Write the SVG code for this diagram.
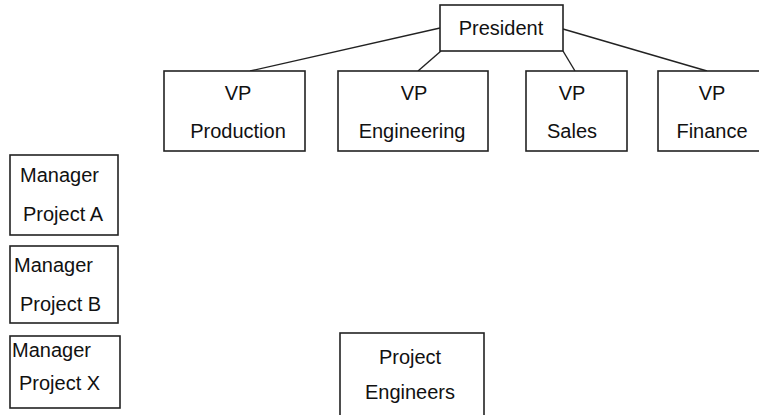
<svg xmlns="http://www.w3.org/2000/svg" width="759" height="415" viewBox="0 0 759 415">
  <style>
    .box { fill: #ffffff; stroke: #222222; stroke-width: 1.6; }
    .lbl { font-family: "Liberation Sans", Arial, sans-serif; font-size: 20px; fill: #111111; }
    .mid { text-anchor: middle; }
    .link { stroke: #222222; stroke-width: 1.4; fill: none; }
  </style>
  <rect width="759" height="415" fill="#ffffff"/>

  <!-- reporting lines from the president to each VP -->
  <g id="connectors">
    <line class="link" x1="440" y1="28" x2="250" y2="71"/>
    <line class="link" x1="441" y1="51" x2="418" y2="71"/>
    <line class="link" x1="563" y1="51" x2="575" y2="71"/>
    <line class="link" x1="563" y1="29" x2="707" y2="71"/>
  </g>

  <g id="president">
    <rect class="box" x="440" y="5" width="123" height="46"/>
    <text class="lbl mid" x="501" y="35">President</text>
  </g>

  <g id="vp-production">
    <rect class="box" x="164" y="71" width="141" height="80"/>
    <text class="lbl mid" x="238" y="100">VP</text>
    <text class="lbl mid" x="238" y="138">Production</text>
  </g>

  <g id="vp-engineering">
    <rect class="box" x="338" y="71" width="150" height="80"/>
    <text class="lbl mid" x="414" y="100">VP</text>
    <text class="lbl mid" x="412" y="138">Engineering</text>
  </g>

  <g id="vp-sales">
    <rect class="box" x="526" y="71" width="101" height="80"/>
    <text class="lbl mid" x="572" y="100">VP</text>
    <text class="lbl mid" x="572" y="138">Sales</text>
  </g>

  <g id="vp-finance">
    <rect class="box" x="658" y="71" width="108" height="80"/>
    <text class="lbl mid" x="712" y="100">VP</text>
    <text class="lbl mid" x="712" y="138">Finance</text>
  </g>

  <g id="manager-a">
    <rect class="box" x="10" y="155" width="108" height="80"/>
    <text class="lbl" x="20" y="182">Manager</text>
    <text class="lbl" x="23" y="221">Project A</text>
  </g>

  <g id="manager-b">
    <rect class="box" x="10" y="246" width="108" height="77"/>
    <text class="lbl" x="14" y="272">Manager</text>
    <text class="lbl" x="20" y="311">Project B</text>
  </g>

  <g id="manager-x">
    <rect class="box" x="10" y="336" width="110" height="72"/>
    <text class="lbl" x="12" y="357">Manager</text>
    <text class="lbl" x="19" y="390">Project X</text>
  </g>

  <g id="project-engineers">
    <rect class="box" x="340" y="333" width="144" height="84"/>
    <text class="lbl mid" x="410" y="364">Project</text>
    <text class="lbl mid" x="410" y="399">Engineers</text>
  </g>
</svg>
